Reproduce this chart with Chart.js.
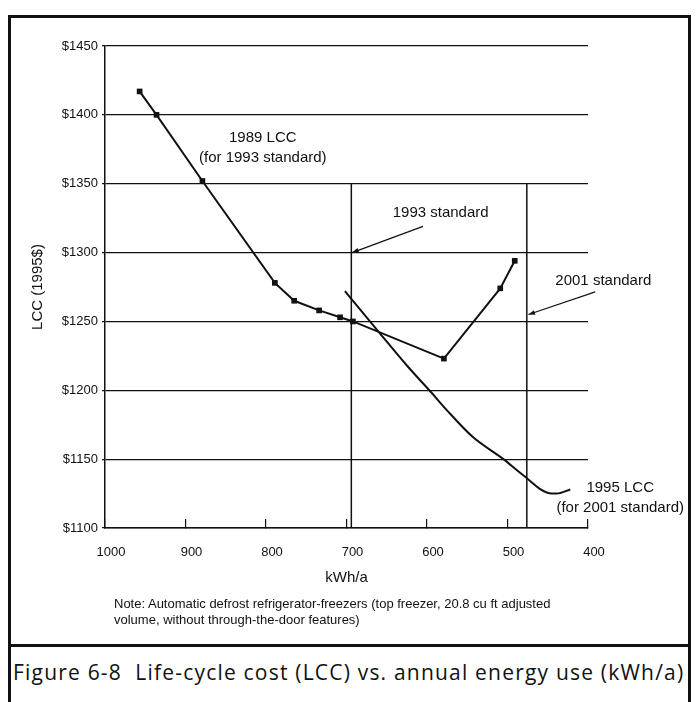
<!DOCTYPE html>
<html>
<head>
<meta charset="utf-8">
<script src="https://cdn.jsdelivr.net/npm/chart.js@4/dist/chart.umd.min.js"></script>
<style>
  html, body { margin: 0; padding: 0; background: #fff; }
  #page { position: relative; width: 697px; height: 702px; overflow: hidden; }
  #frame { position: absolute; left: 8px; top: 15px; width: 677px; height: 700px; border: 3px solid #111; border-bottom: none; }
  #sep { position: absolute; left: 8px; top: 644px; width: 683px; height: 3px; background: #111; }
  #chart { position: absolute; left: 0; top: 0; }
  #note { position: absolute; left: 114px; top: 596px; font: 13px "Liberation Sans", Arial, sans-serif; line-height: 16px; color: #111; }
  #caption { position: absolute; left: 13px; top: 658px; font: 21px "Open Sans", sans-serif; letter-spacing: 1.2px; color: #111; white-space: nowrap; }
</style>
</head>
<body>
<div id="page">
  <div id="frame"></div>
  <div id="sep"></div>
  <canvas id="chart" width="697" height="600"></canvas>
  <div id="note">Note: Automatic defrost refrigerator-freezers (top freezer, 20.8 cu ft adjusted<br>volume, without through-the-door features)</div>
  <div id="caption">Figure 6-8&nbsp; Life-cycle cost (LCC) vs. annual energy use (kWh/a)</div>
</div>
<script>
// ---------- Data ----------
const kwhTicks = [1000, 900, 800, 700, 600, 500, 400];
const lccTicks = [1100, 1150, 1200, 1250, 1300, 1350, 1400, 1450];

// 1989 LCC curve (for 1993 standard), square markers
const lcc1989Kwh = [957, 936, 879, 789, 765, 734, 708, 692, 579, 509, 491];
const lcc1989Cost = [1417, 1400, 1352, 1278, 1265, 1258, 1253, 1250, 1223, 1274, 1294];

// 1995 LCC curve (for 2001 standard), no markers
const lcc1995Kwh = [702, 658, 625, 594, 576, 543, 505, 482, 445, 439, 422];
const lcc1995Cost = [1272, 1241, 1218, 1198, 1186, 1166, 1150, 1139, 1125, 1125, 1128];

// standards (vertical lines)
const std1993Kwh = 694;
const std2001Kwh = 476;
const stdTop = 1350;
const stdBottom = 1100;

// text notes inside the plot, anchored in data units
const noteLabels = [
  { lines: ['1989 LCC', '(for 1993 standard)'], kwh: 804, lcc: 1376 },
  { lines: ['1993 standard'], kwh: 583, lcc: 1329 },
  { lines: ['2001 standard'], kwh: 381, lcc: 1279.5 },
  { lines: ['1995 LCC', '(for 2001 standard)'], kwh: 360, lcc: 1122 }
];
const noteArrows = [
  { from: [605, 1319], to: [693, 1300] },
  { from: [391, 1271.5], to: [474, 1255] }
];

const ink = '#111';
const sans = '"Liberation Sans", Arial, sans-serif';

function pairs(xs, ys) {
  return xs.map((x, i) => ({ x: x, y: ys[i] }));
}

// ---------- Notes plugin ----------
const notesPlugin = {
  id: 'notes',
  afterDatasetsDraw(chart) {
    const { ctx, scales: { x, y } } = chart;
    ctx.save();
    ctx.fillStyle = ink;
    ctx.strokeStyle = ink;
    ctx.font = '15px ' + sans;
    ctx.textAlign = 'center';
    ctx.textBaseline = 'middle';
    const lh = 20;
    noteLabels.forEach(n => {
      const px = x.getPixelForValue(n.kwh);
      const py = y.getPixelForValue(n.lcc);
      const y0 = py - (n.lines.length - 1) * lh / 2;
      n.lines.forEach((t, i) => ctx.fillText(t, px, y0 + i * lh));
    });
    ctx.lineWidth = 1.2;
    noteArrows.forEach(a => {
      const x1 = x.getPixelForValue(a.from[0]), y1 = y.getPixelForValue(a.from[1]);
      const x2 = x.getPixelForValue(a.to[0]), y2 = y.getPixelForValue(a.to[1]);
      const ang = Math.atan2(y2 - y1, x2 - x1);
      ctx.beginPath();
      ctx.moveTo(x1, y1);
      ctx.lineTo(x2, y2);
      ctx.stroke();
      ctx.beginPath();
      ctx.moveTo(x2, y2);
      ctx.lineTo(x2 - 7 * Math.cos(ang - 0.35), y2 - 7 * Math.sin(ang - 0.35));
      ctx.lineTo(x2 - 7 * Math.cos(ang + 0.35), y2 - 7 * Math.sin(ang + 0.35));
      ctx.closePath();
      ctx.fill();
    });
    ctx.restore();
  }
};

// ---------- Chart ----------
const ctx = document.getElementById('chart').getContext('2d');

new Chart(ctx, {
  type: 'line',
  data: {
    datasets: [
      {
        data: pairs(lcc1989Kwh, lcc1989Cost),
        borderColor: ink,
        borderWidth: 2,
        pointStyle: 'rect',
        pointRadius: 4,
        pointBackgroundColor: ink,
        pointBorderWidth: 0,
        tension: 0
      },
      {
        data: pairs(lcc1995Kwh, lcc1995Cost),
        borderColor: ink,
        borderWidth: 2,
        pointRadius: 0,
        cubicInterpolationMode: 'monotone'
      },
      {
        data: [{ x: std1993Kwh, y: stdTop }, { x: std1993Kwh, y: stdBottom }],
        borderColor: ink,
        borderWidth: 1.5,
        pointRadius: 0
      },
      {
        data: [{ x: std2001Kwh, y: stdTop }, { x: std2001Kwh, y: stdBottom }],
        borderColor: ink,
        borderWidth: 1.5,
        pointRadius: 0
      }
    ]
  },
  options: {
    responsive: false,
    animation: false,
    layout: { padding: { top: 46, left: 0, right: 109, bottom: 0 } },
    plugins: {
      legend: { display: false },
      tooltip: { enabled: false }
    },
    scales: {
      x: {
        type: 'linear',
        reverse: true,
        min: 400,
        max: 1000,
        afterBuildTicks: s => { s.ticks = kwhTicks.map(v => ({ value: v })); },
        afterFit: s => { s.height = 72; },
        grid: { drawOnChartArea: false, drawTicks: true, tickLength: -9, color: ink, lineWidth: 1.2 },
        border: { display: true, color: ink, width: 1.5 },
        ticks: { color: ink, font: { family: sans, size: 13 }, padding: 26, labelOffset: 6, maxRotation: 0, callback: v => String(v) },
        title: { display: true, text: 'kWh/a', color: ink, font: { family: sans, size: 15 }, padding: { top: 0, bottom: 13 } }
      },
      y: {
        min: 1100,
        max: 1450,
        afterBuildTicks: s => { s.ticks = lccTicks.map(v => ({ value: v })); },
        afterFit: s => { s.width = 105; },
        grid: { color: ink, lineWidth: 1.2, drawTicks: true, tickLength: 3 },
        border: { display: true, color: ink, width: 1.5 },
        ticks: { color: ink, font: { family: sans, size: 13 }, padding: 4, callback: v => '$' + v },
        title: { display: true, text: 'LCC (1995$)', color: ink, font: { family: sans, size: 15 }, padding: { top: 29, bottom: 0 } }
      }
    }
  },
  plugins: [notesPlugin]
});
</script>
</body>
</html>
